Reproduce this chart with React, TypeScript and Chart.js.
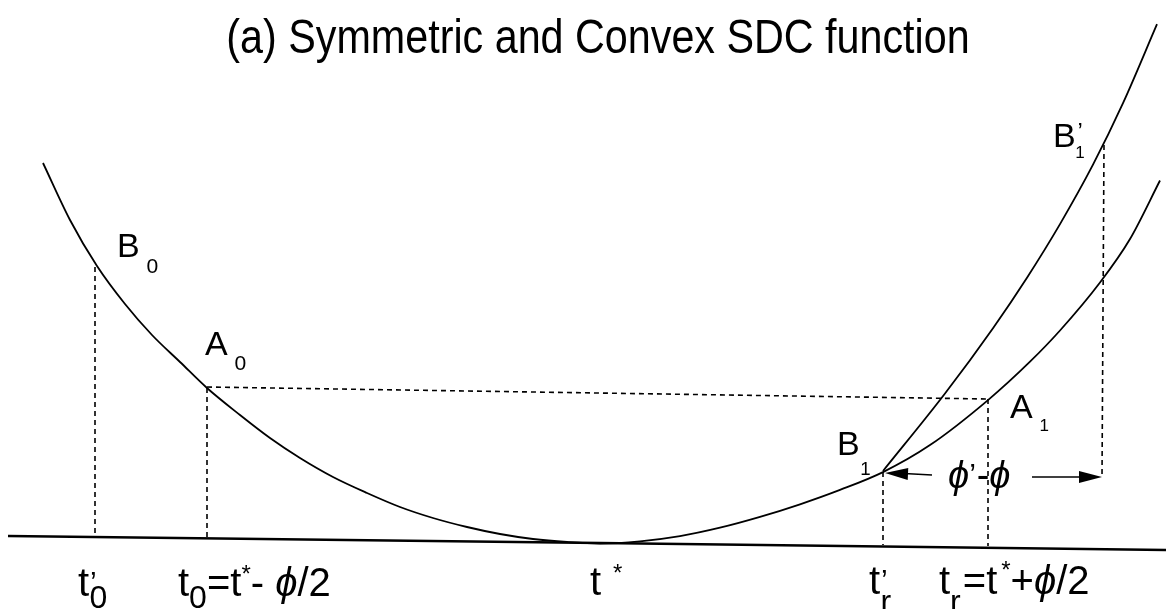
import React, { useEffect, useRef } from "react";
import { Chart, registerables } from "chart.js";

Chart.register(...registerables);

// Lower (symmetric, convex) SDC curve (x, y in picture units; y grows downward)
const lowerCurveX = [43, 70, 97, 125, 152, 180, 207, 240, 270, 300, 333, 367, 400, 433, 467, 500, 533, 567, 600, 640, 680, 720, 760, 800, 840, 883, 930, 988, 1030, 1060, 1100, 1130, 1160];
const lowerCurveY = [163, 220, 266, 304, 335, 362, 388, 415, 438, 458, 477, 493, 507, 518, 527, 534, 539, 542, 543.5, 541.3, 536.1, 527.7, 516.9, 504.3, 489.9, 472.1, 445.1, 400.1, 361.7, 330.5, 282.5, 239, 180.5];

// Upper (steeper) branch starting at B1
const upperCurveX = [883, 945, 993, 1027, 1060, 1093, 1123, 1157];
const upperCurveY = [471, 393.5, 328.2, 277.7, 224.1, 164.7, 103.2, 24.2];

// Horizontal axis line
const axisX = [8, 600, 1166];
const axisY = [536, 543, 550];

// Dashed guide segments [x1, y1, x2, y2]
const guideSegments = [
  [95, 267, 95, 537],
  [207, 388, 207, 539],
  [207, 387, 988, 399],
  [988, 399, 988, 546],
  [883, 472, 883, 545],
  [1104, 145, 1102, 477],
];

// Arrows for phi' - phi [x1, y1, x2, y2] (head at x2, y2)
const arrowSegments = [
  [932, 475, 885, 473],
  [1032, 477, 1102, 477],
];

type Run = { t: string; sub?: number; sc?: number; k?: number; it?: boolean };
type Label = { x: number; y: number; size: number; sx?: number; align?: "left" | "center"; runs: Run[] };

const labels: Label[] = [
  { x: 598, y: 53, size: 48, sx: 0.86, align: "center", runs: [{ t: "(a) Symmetric and Convex SDC function" }] },
  { x: 117, y: 257, size: 34, runs: [{ t: "B" }, { t: "0", sc: 0.62, sub: 0.47, k: 0.2 }] },
  { x: 205, y: 355, size: 34, runs: [{ t: "A" }, { t: "0", sc: 0.62, sub: 0.45, k: 0.2 }] },
  { x: 837, y: 455, size: 34, runs: [{ t: "B" }, { t: "1", sc: 0.55, sub: 0.58, k: 0.02 }] },
  { x: 1010, y: 418, size: 34, runs: [{ t: "A" }, { t: "1", sc: 0.5, sub: 0.38, k: 0.2 }] },
  { x: 1053, y: 147, size: 34, runs: [{ t: "B" }, { t: "\u2019", sc: 0.7, sub: -0.2, k: 0.05 }, { t: "1", sc: 0.5, sub: 0.32, k: -0.22 }] },
  { x: 948, y: 488, size: 38, runs: [{ t: "\u03D5", it: true }, { t: "\u2019", sc: 0.8, sub: -0.1 }, { t: "-", k: 0.02 }, { t: "\u03D5", it: true }] },
  { x: 78, y: 596, size: 40, runs: [{ t: "t" }, { t: "\u2019", sc: 0.75, sub: -0.1, k: 0.02 }, { t: "0", sc: 0.8, sub: 0.3, k: -0.18 }] },
  { x: 178, y: 596, size: 40, runs: [{ t: "t" }, { t: "0", sc: 0.8, sub: 0.3 }, { t: "=" }, { t: "t" }, { t: "*", sc: 0.6, sub: -0.35 }, { t: "- " }, { t: "\u03D5", it: true }, { t: "/2" }] },
  { x: 590, y: 595, size: 40, runs: [{ t: "t" }, { t: "*", sc: 0.6, sub: -0.35, k: 0.3 }] },
  { x: 869, y: 594, size: 40, runs: [{ t: "t" }, { t: "\u2019", sc: 0.75, sub: -0.1, k: 0.02 }, { t: "r", sc: 0.8, sub: 0.45, k: -0.18 }] },
  { x: 939, y: 594, size: 40, runs: [{ t: "t" }, { t: "r", sc: 0.8, sub: 0.45 }, { t: "=", k: 0.05 }, { t: "t" }, { t: "*", sc: 0.6, sub: -0.4, k: 0.1 }, { t: "+" }, { t: "\u03D5", it: true }, { t: "/2" }] },
];

const FONT = '"Liberation Sans", Arial, Helvetica, sans-serif';

function fontFor(size: number, it?: boolean) {
  return `${it ? "italic " : ""}${size}px ${FONT}`;
}

const annotationPlugin = {
  id: "diagramAnnotations",
  afterDatasetsDraw(chart: any) {
    const { ctx, scales } = chart;
    const xs = scales.x;
    const ys = scales.y;
    ctx.save();
    // arrow heads
    ctx.fillStyle = "#000";
    arrowSegments.forEach(([x1, y1, x2, y2]) => {
      const px1 = xs.getPixelForValue(x1);
      const py1 = ys.getPixelForValue(y1);
      const px2 = xs.getPixelForValue(x2);
      const py2 = ys.getPixelForValue(y2);
      const ang = Math.atan2(py2 - py1, px2 - px1);
      const len = 23;
      const hw = 6;
      ctx.beginPath();
      ctx.moveTo(px2, py2);
      ctx.lineTo(px2 - len * Math.cos(ang) + hw * Math.sin(ang), py2 - len * Math.sin(ang) - hw * Math.cos(ang));
      ctx.lineTo(px2 - len * Math.cos(ang) - hw * Math.sin(ang), py2 - len * Math.sin(ang) + hw * Math.cos(ang));
      ctx.closePath();
      ctx.fill();
    });
    // labels
    ctx.textBaseline = "alphabetic";
    ctx.textAlign = "left";
    labels.forEach((lab) => {
      const sx = lab.sx ?? 1;
      const widths = lab.runs.map((r) => {
        ctx.font = fontFor(lab.size * (r.sc ?? 1), r.it);
        return ctx.measureText(r.t).width + (r.k ?? 0) * lab.size;
      });
      const total = widths.reduce((a, b) => a + b, 0) * sx;
      let x0 = xs.getPixelForValue(lab.x);
      const y = ys.getPixelForValue(lab.y);
      if (lab.align === "center") x0 -= total / 2;
      ctx.save();
      ctx.translate(x0, y);
      ctx.scale(sx, 1);
      let x = 0;
      lab.runs.forEach((r) => {
        x += (r.k ?? 0) * lab.size;
        ctx.font = fontFor(lab.size * (r.sc ?? 1), r.it);
        ctx.fillText(r.t, x, (r.sub ?? 0) * lab.size);
        x += ctx.measureText(r.t).width;
      });
      ctx.restore();
    });
    ctx.restore();
  },
};

function pts(xs: number[], ys: number[]) {
  return xs.map((x, i) => ({ x, y: ys[i] }));
}

export default function App() {
  const ref = useRef<HTMLCanvasElement | null>(null);
  useEffect(() => {
    if (!ref.current) return;
    const solid = (data: any[], width: number, smooth: boolean) => ({
      data,
      showLine: true,
      borderColor: "#000",
      borderWidth: width,
      pointRadius: 0,
      fill: false,
      cubicInterpolationMode: smooth ? ("monotone" as const) : ("default" as const),
      tension: 0,
    });
    const datasets: any[] = [
      solid(pts(axisX, axisY), 2.6, false),
      solid(pts(lowerCurveX, lowerCurveY), 1.8, true),
      solid(pts(upperCurveX, upperCurveY), 1.8, true),
      ...guideSegments.map(([x1, y1, x2, y2]) => ({
        data: [{ x: x1, y: y1 }, { x: x2, y: y2 }],
        showLine: true,
        borderColor: "#000",
        borderWidth: 1.6,
        borderDash: [5, 4],
        pointRadius: 0,
        fill: false,
      })),
      ...arrowSegments.map(([x1, y1, x2, y2]) => ({
        data: [{ x: x1, y: y1 }, { x: x2 + (x2 < x1 ? 10 : -10), y: y2 }],
        showLine: true,
        borderColor: "#000",
        borderWidth: 1.6,
        pointRadius: 0,
        fill: false,
      })),
    ];
    const chart = new Chart(ref.current, {
      type: "scatter",
      data: { datasets },
      options: {
        animation: false,
        responsive: true,
        maintainAspectRatio: false,
        layout: { padding: 0 },
        events: [],
        plugins: { legend: { display: false }, tooltip: { enabled: false }, title: { display: false } },
        scales: {
          x: { type: "linear", min: 0, max: 1166, display: false },
          y: { type: "linear", min: 0, max: 609, reverse: true, display: false },
        },
      },
      plugins: [annotationPlugin],
    });
    return () => chart.destroy();
  }, []);
  return (
    <div style={{ position: "fixed", left: 0, top: 0, width: 1166, height: 609, background: "#fff" }}>
      <canvas ref={ref} />
    </div>
  );
}
